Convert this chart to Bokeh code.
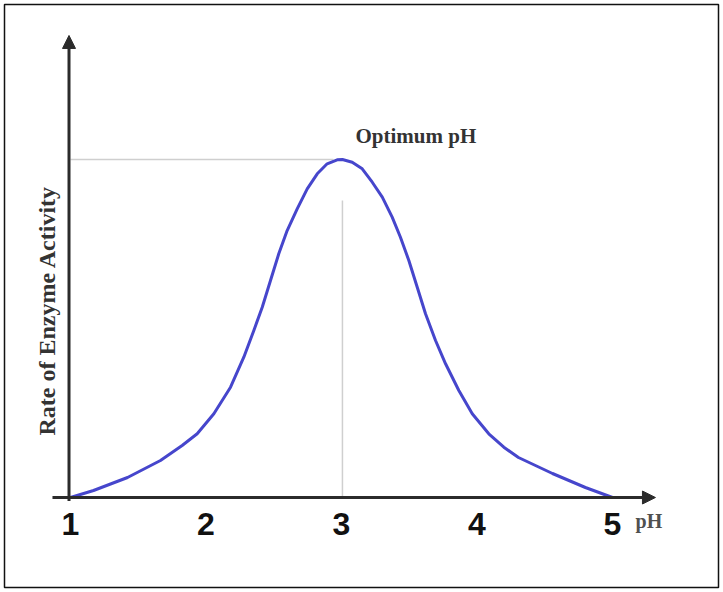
from bokeh.plotting import figure
from bokeh.models import Arrow, NormalHead, Range1d, LinearAxis, FixedTicker, Label
from bokeh.embed import file_html
from bokeh.resources import INLINE

# ---- data ----
ph = [1.000, 1.170, 1.421, 1.664, 1.824, 1.935, 2.058, 2.181, 2.279, 2.353, 2.415, 2.476,
      2.537, 2.599, 2.673, 2.747, 2.821, 2.894, 2.968, 3.007, 3.079, 3.153, 3.227, 3.301,
      3.374, 3.435, 3.497, 3.559, 3.620, 3.694, 3.768, 3.866, 3.965, 4.087, 4.198, 4.306,
      4.557, 4.800, 5.000]
rate = [0.0, 2.07, 5.92, 10.95, 15.38, 18.85, 24.76, 32.63, 41.51, 49.41, 56.30, 64.20,
        72.10, 78.99, 85.41, 91.33, 95.77, 98.73, 99.91, 100.0, 99.20, 97.25, 93.28, 88.85,
        82.93, 77.01, 70.12, 62.22, 54.35, 46.45, 39.56, 31.66, 24.76, 18.85, 14.88, 11.83,
        7.10, 2.96, 0.0]
tick_values = [1, 2, 3, 4, 5]
tick_labels = ["1", "2", "3", "4", "5"]
optimum_ph = 3.007
optimum_rate = 100.0
x_label = "pH"
y_label = "Rate of Enzyme Activity"
annotation = "Optimum pH"

W, H = 723, 592
p = figure(width=W, height=H, output_backend="svg", toolbar_location=None,
           x_range=Range1d(0.51292, 5.78229), y_range=Range1d(-26.627, 145.858),
           x_axis_type=None, y_axis_type=None)
p.min_border_left = 4
p.min_border_right = 5
p.min_border_top = 4
p.min_border_bottom = 5
p.grid.visible = False
p.outline_line_color = "#111111"
p.outline_line_width = 1.5
p.background_fill_color = "white"
p.border_fill_color = "white"

axis_color = "#2b2b2b"
guide_color = "#cfcfcf"

# guide lines to the optimum
p.line(x=[1.0, 2.94], y=[optimum_rate, optimum_rate], line_color=guide_color, line_width=1.5)
p.line(x=[optimum_ph, optimum_ph], y=[0, 87.9], line_color=guide_color, line_width=1.5)

# curve
p.line(x=ph, y=rate, line_color="#4646cc", line_width=3, line_join="round")

# axes with arrow heads
p.add_layout(Arrow(end=NormalHead(size=13, fill_color=axis_color, line_color=axis_color),
                   x_start=0.867, y_start=0, x_end=5.317, y_end=0,
                   line_color=axis_color, line_width=3))
p.add_layout(Arrow(end=NormalHead(size=13, fill_color=axis_color, line_color=axis_color),
                   x_start=0.989, y_start=-1.0, x_end=0.989, y_end=136.7,
                   line_color=axis_color, line_width=3))

# tick labels via a real axis placed at y = 0
xa = LinearAxis(fixed_location=0, ticker=FixedTicker(ticks=tick_values),
                major_label_overrides={v: t for v, t in zip(tick_values, tick_labels)},
                axis_line_color=None, major_tick_line_color=None, minor_tick_line_color=None,
                major_tick_in=0, major_tick_out=0, major_label_standoff=15,
                major_label_text_font="Liberation Sans", major_label_text_font_style="bold",
                major_label_text_font_size="32px", major_label_text_color="#111111")
p.add_layout(xa, "below")

serif = "Liberation Serif"
p.add_layout(Label(x=5.17, y=-7.1, text=x_label, text_font=serif, text_font_style="bold",
                   text_font_size="20px", text_color="#505050",
                   text_align="left", text_baseline="middle"))
p.add_layout(Label(x=3.103, y=107.1, text=annotation, text_font=serif, text_font_style="bold",
                   text_font_size="21px", text_color="#333333",
                   text_align="left", text_baseline="middle"))
p.add_layout(Label(x=0.823, y=55.3, text=y_label, text_font=serif, text_font_style="bold",
                   text_font_size="24px", text_color="#333333", angle=1.5708,
                   text_align="center", text_baseline="middle"))

open("out.html", "w").write(file_html(p, INLINE))
